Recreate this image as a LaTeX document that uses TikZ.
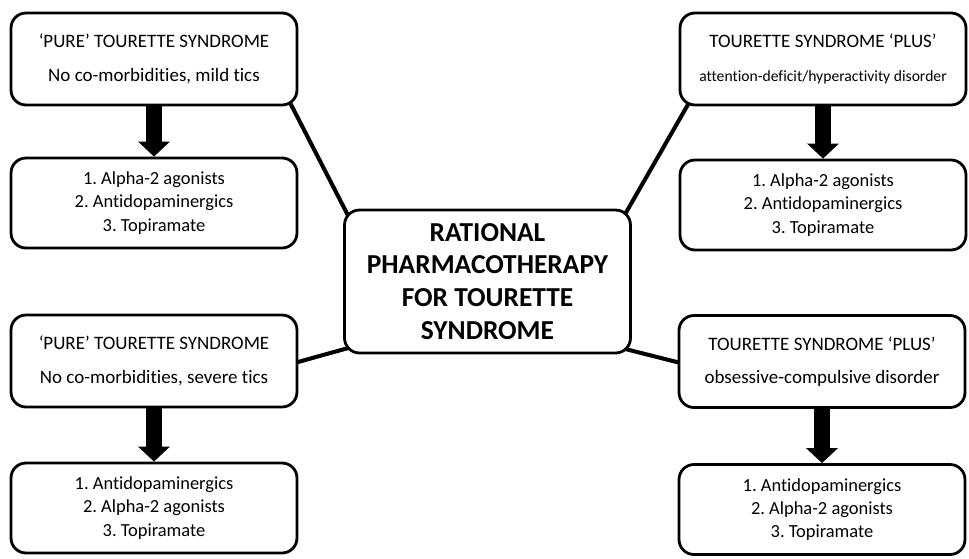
\documentclass[tikz,border=0pt]{standalone}
\usepackage{fontspec}
\setmainfont{Carlito}[Ligatures={TeX,NoCommon}]
\usepackage{tikz}
\usetikzlibrary{arrows.meta}
\usetikzlibrary{backgrounds}
\frenchspacing

\begin{document}
\begin{tikzpicture}[x=0.02cm, y=-0.02cm,
	box/.style={draw, line width=1.6pt, rounded corners=8.5pt, fill=white,
		align=center, inner sep=0pt, minimum width=5.72cm},
	hdr/.style={box, minimum height=1.84cm, font=\fontsize{10.8}{12.5}\selectfont},
	res/.style={box, minimum height=1.8cm, font=\fontsize{10.5}{13.3}\selectfont},
	down/.style={line width=0.32cm, -{Triangle[width=0.62cm, length=0.3cm]}},
	link/.style={line width=2.3pt}]
	\useasboundingbox (0,0) rectangle (969,558);

	\node[hdr] (tl) at (154,59) {`PURE' TOURETTE SYNDROME\\[6.6pt] No co-morbidities, mild tics};
	\node[res] (tlr) at (154,203) {1. Alpha-2 agonists\\ 2. Antidopaminergics\\ 3. Topiramate};

	\node[hdr] (tr) at (823,59) {TOURETTE SYNDROME `PLUS'\\[6.6pt]
		{\fontsize{8.9}{12}\selectfont attention-deficit/hyperactivity disorder}};
	\node[res] (trr) at (823,205) {1. Alpha-2 agonists\\ 2. Antidopaminergics\\ 3. Topiramate};

	\node[box, minimum height=2.86cm,
		font=\fontsize{15.6}{18.7}\selectfont\bfseries] (c) at (487.5,281.5)
		{RATIONAL\\ PHARMACOTHERAPY\\ FOR TOURETTE\\ SYNDROME};

	\node[hdr] (bl) at (154,361) {`PURE' TOURETTE SYNDROME\\[6.6pt] No co-morbidities, severe tics};
	\node[res] (blr) at (154,508) {1. Antidopaminergics\\ 2. Alpha-2 agonists\\ 3. Topiramate};

	\node[hdr] (br) at (822,361.5) {TOURETTE SYNDROME `PLUS'\\[6.6pt] obsessive-compulsive disorder};
	\node[res] (brr) at (822,509.5) {1. Antidopaminergics\\ 2. Alpha-2 agonists\\ 3. Topiramate};

	\foreach \a/\b in {tl/tlr, tr/trr, bl/blr, br/brr}
	\draw[down] (\a.south) -- (\b.north);

	\begin{scope}[on background layer]
		\draw[link] ([shift={(-9,-5)}]tl.south east) -- ([shift={(6.5,10)}]c.north west);
		\draw[link] ([shift={(10,-3)}]tr.south west) -- ([shift={(-10.5,12)}]c.north east);
		\draw[link] ([shift={(-4,2)}]bl.east) -- ([shift={(11,-8)}]c.south west);
		\draw[link] ([shift={(-11,-6.5)}]c.south east) -- ([shift={(5,2)}]br.west);
	\end{scope}
\end{tikzpicture}
\end{document}
